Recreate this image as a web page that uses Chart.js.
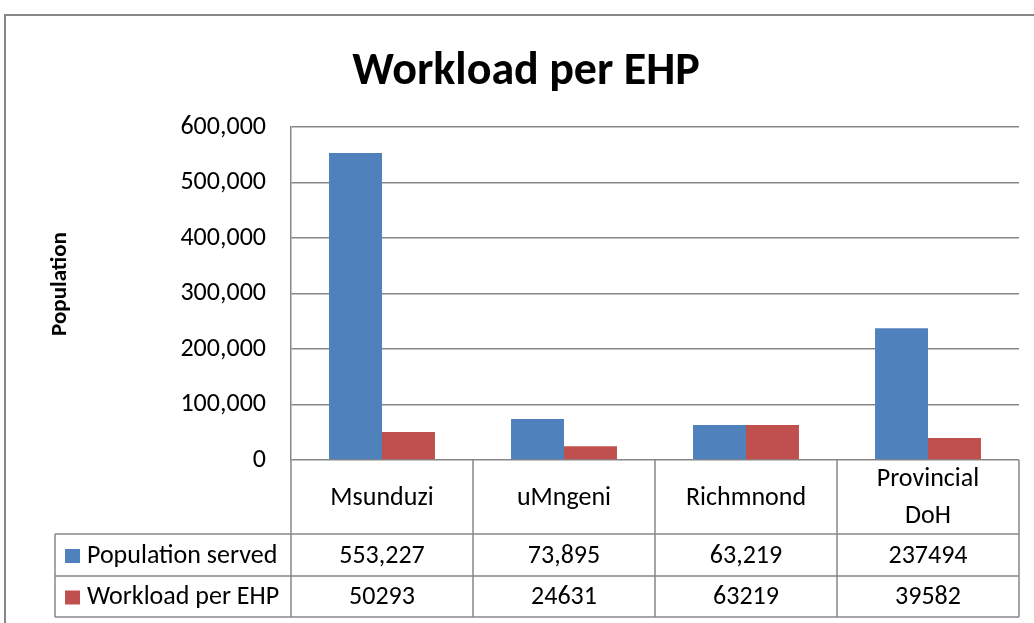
<!DOCTYPE html>
<html>
<head>
<meta charset="utf-8">
<script src="https://cdn.jsdelivr.net/npm/chart.js@4.4.1/dist/chart.umd.min.js"></script>
<style>
  html, body { margin: 0; padding: 0; background: #ffffff; }
  canvas { display: block; }
</style>
</head>
<body>
<canvas id="chart" width="1034" height="623"></canvas>
<script>
// chart data
const chartTitle = "Workload per EHP";
const yAxisTitle = "Population";
const categories = ["Msunduzi", "uMngeni", "Richmnond", ["Provincial", "DoH"]];
const seriesNames = ["Population served", "Workload per EHP"];
const populationServed = [553227, 73895, 63219, 237494];
const workloadPerEhp = [50293, 24631, 63219, 39582];
// table cells as printed in the reference
const populationLabels = ["553,227", "73,895", "63,219", "237494"];
const workloadLabels = ["50293", "24631", "63219", "39582"];

const FONT = "Carlito, Calibri, Lato, 'Open Sans', sans-serif";
const GRID = "#878787";
const BLUE = "#4F81BD";
const RED = "#C0504D";

// Outer frame + titles (placed like the Excel original, not centred on the canvas)
const framePlugin = {
  id: "frame",
  beforeDraw(chart) {
    const ctx = chart.ctx;
    ctx.save();
    ctx.fillStyle = "#ffffff";
    ctx.fillRect(0, 0, chart.width, chart.height);
    ctx.strokeStyle = GRID;
    ctx.lineWidth = 2;
    ctx.strokeRect(5, 15, chart.width + 50, chart.height + 50);

    ctx.fillStyle = "#000000";
    ctx.font = "bold 46px " + FONT;
    ctx.textAlign = "center";
    ctx.textBaseline = "alphabetic";
    ctx.fillText(chartTitle, 526, 84);

    ctx.translate(60, 284);
    ctx.rotate(-Math.PI / 2);
    ctx.font = "bold 23px " + FONT;
    ctx.textBaseline = "middle";
    ctx.fillText(yAxisTitle, 0, 0);
    ctx.restore();
  },
};

// Data table under the plot, columns follow the category scale
const dataTablePlugin = {
  id: "dataTable",
  afterDraw(chart) {
    const ctx = chart.ctx;
    const x = chart.scales.x;
    const area = chart.chartArea;
    const n = categories.length;
    const colW = (x.right - x.left) / n;
    const legendLeft = 55;
    const rowTops = [area.bottom, 534, 576, 617];

    ctx.save();
    ctx.strokeStyle = GRID;
    ctx.lineWidth = 1.5;

    // horizontal rules
    for (let r = 1; r < rowTops.length; r++) {
      ctx.beginPath();
      ctx.moveTo(legendLeft, rowTops[r]);
      ctx.lineTo(x.right, rowTops[r]);
      ctx.stroke();
    }
    // legend column left edge
    ctx.beginPath();
    ctx.moveTo(legendLeft, rowTops[1]);
    ctx.lineTo(legendLeft, rowTops[3]);
    ctx.stroke();
    // column dividers
    for (let i = 0; i <= n; i++) {
      const px = x.left + i * colW;
      ctx.beginPath();
      ctx.moveTo(px, area.bottom);
      ctx.lineTo(px, rowTops[3]);
      ctx.stroke();
    }

    ctx.fillStyle = "#000000";
    ctx.font = "26px " + FONT;
    ctx.textAlign = "center";
    ctx.textBaseline = "middle";

    // category row
    categories.forEach((cat, i) => {
      const cx = x.getPixelForValue(i);
      const lines = Array.isArray(cat) ? cat : [cat];
      const mid = (rowTops[0] + rowTops[1]) / 2 + 1;
      const lh = 37;
      lines.forEach((line, k) => {
        ctx.fillText(line, cx, mid + (k - (lines.length - 1) / 2) * lh);
      });
    });

    // series rows
    const rows = [populationLabels, workloadLabels];
    const colors = [BLUE, RED];
    rows.forEach((vals, r) => {
      const mid = (rowTops[r + 1] + rowTops[r + 2]) / 2 + 1;
      vals.forEach((v, i) => {
        ctx.fillText(v, x.getPixelForValue(i), mid);
      });
      ctx.fillStyle = colors[r];
      ctx.fillRect(65, mid - 7, 15, 14);
      ctx.fillStyle = "#000000";
      ctx.textAlign = "left";
      ctx.fillText(seriesNames[r], 87, mid);
      ctx.textAlign = "center";
    });

    ctx.restore();
  },
};

new Chart(document.getElementById("chart"), {
  type: "bar",
  data: {
    labels: categories,
    datasets: [
      {
        label: seriesNames[0],
        data: populationServed,
        backgroundColor: BLUE,
        categoryPercentage: 0.582,
        barPercentage: 1.0,
      },
      {
        label: seriesNames[1],
        data: workloadPerEhp,
        backgroundColor: RED,
        categoryPercentage: 0.582,
        barPercentage: 1.0,
      },
    ],
  },
  options: {
    responsive: false,
    animation: false,
    layout: { padding: { left: 0, right: 15, top: 127, bottom: 163 } },
    plugins: {
      legend: { display: false },
      tooltip: { enabled: false },
      title: { display: false },
    },
    scales: {
      x: {
        display: false,
      },
      y: {
        min: 0,
        max: 600000,
        afterFit: (scale) => {
          scale.width = 291;
        },
        ticks: {
          stepSize: 100000,
          padding: 25,
          color: "#000000",
          font: { family: FONT, size: 26 },
          callback: (v) => v.toLocaleString("en-US"),
        },
        grid: {
          color: GRID,
          lineWidth: 1.5,
          drawTicks: false,
          tickLength: 0,
        },
        border: { color: GRID, width: 1.5 },
      },
    },
  },
  plugins: [framePlugin, dataTablePlugin],
});
</script>
</body>
</html>
